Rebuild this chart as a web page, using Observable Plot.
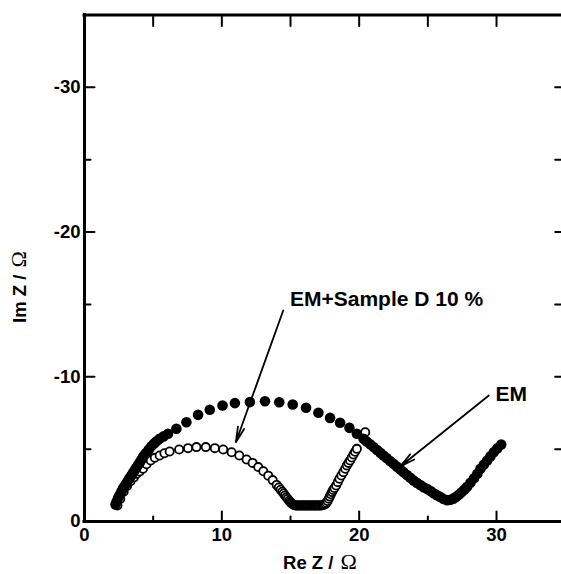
<!DOCTYPE html>
<html><head><meta charset="utf-8">
<script src="https://cdn.jsdelivr.net/npm/d3@7"></script>
<script src="https://cdn.jsdelivr.net/npm/@observablehq/plot@0.6"></script>
<style>body{margin:0;background:#fff;}</style>
</head><body><div id="chart"></div>
<script>
// EM (filled circles)
const emRe = [2.26,2.35,2.45,2.55,2.68,2.80,2.92,3.04,3.16,3.28,3.41,3.53,3.65,3.77,3.90,4.02,4.14,4.26,4.38,4.50,4.68,4.87,5.05,5.25,5.47,5.75,6.08,6.69,7.42,8.27,9.12,10.05,10.95,12.04,13.14,14.18,15.16,16.13,17.03,17.88,18.61,19.29,19.83,20.32,20.55,20.80,21.05,21.30,21.55,21.77,22.00,22.25,22.50,22.75,23.00,23.23,23.48,23.72,23.96,24.20,24.45,24.69,24.95,25.20,25.42,25.65,25.90,26.15,26.40,26.64,26.85,27.05,27.25,27.45,27.65,27.86,28.10,28.35,28.60,28.83,29.08,29.32,29.55,29.80,30.05,30.34];
const emIm = [-1.17,-1.40,-1.62,-1.82,-2.05,-2.28,-2.45,-2.62,-2.82,-3.00,-3.18,-3.36,-3.54,-3.71,-3.90,-4.08,-4.26,-4.45,-4.62,-4.75,-4.98,-5.20,-5.38,-5.55,-5.71,-5.88,-6.06,-6.41,-6.86,-7.37,-7.72,-8.02,-8.18,-8.25,-8.31,-8.24,-8.09,-7.86,-7.51,-7.16,-6.82,-6.47,-6.06,-5.71,-5.52,-5.33,-5.14,-4.94,-4.74,-4.56,-4.38,-4.18,-3.99,-3.79,-3.60,-3.41,-3.21,-3.02,-2.83,-2.67,-2.52,-2.37,-2.24,-2.10,-1.95,-1.82,-1.70,-1.55,-1.47,-1.50,-1.58,-1.70,-1.85,-2.02,-2.20,-2.40,-2.68,-2.98,-3.30,-3.64,-3.94,-4.22,-4.50,-4.79,-5.05,-5.32];
// EM+Sample D 10 % (open circles)
const sampleRe = [2.40,2.60,2.85,3.10,3.35,3.60,3.80,4.02,4.26,4.52,4.82,5.12,5.47,5.82,6.20,6.89,7.54,8.15,8.83,9.49,10.10,10.71,11.27,11.80,12.24,12.65,13.02,13.38,13.70,13.99,14.15,14.28,14.40,14.50,14.60,14.70,14.80,14.90,14.98,15.06,15.14,15.22,15.30,15.38,15.46,15.54,15.62,15.70,15.78,15.86,15.94,16.02,16.10,16.18,16.26,16.34,16.42,16.50,16.58,16.66,16.74,16.82,16.90,16.98,17.06,17.14,17.22,17.30,17.38,17.46,17.54,17.62,17.70,17.78,17.86,17.94,18.02,18.10,18.20,18.32,18.44,18.56,18.70,18.85,18.98,19.10,19.22,19.34,19.46,19.58,19.70,19.83,20.44];
const sampleIm = [-1.10,-1.55,-2.05,-2.45,-2.78,-3.05,-3.30,-3.45,-3.64,-3.95,-4.22,-4.40,-4.56,-4.72,-4.84,-4.98,-5.07,-5.14,-5.14,-5.07,-4.98,-4.79,-4.56,-4.28,-4.05,-3.76,-3.47,-3.17,-2.86,-2.53,-2.35,-2.20,-2.06,-1.93,-1.80,-1.67,-1.55,-1.43,-1.35,-1.27,-1.21,-1.16,-1.13,-1.11,-1.10,-1.10,-1.10,-1.10,-1.10,-1.10,-1.10,-1.10,-1.10,-1.10,-1.10,-1.10,-1.10,-1.10,-1.10,-1.10,-1.10,-1.10,-1.10,-1.10,-1.10,-1.10,-1.11,-1.12,-1.14,-1.17,-1.22,-1.30,-1.42,-1.57,-1.72,-1.88,-2.03,-2.18,-2.32,-2.49,-2.72,-2.95,-3.18,-3.41,-3.64,-3.87,-4.05,-4.22,-4.42,-4.63,-4.82,-5.02,-6.17];

const xMajorTicks = [0, 10, 20, 30];
const xMinorTicks = [5, 15, 25];
const yMajorTicks = [0, -10, -20, -30];
const yMinorTicks = [-5, -15, -25];
const xDomain = [0, 35];
const yDomain = [0, -35];

const annotationText = ["EM+Sample D 10 %", "EM"];
const annotationX = [14.96, 29.93];
const annotationY = [-15.34, -8.78];
const arrowFromX = [14.47, 29.44];
const arrowFromY = [-14.58, -8.71];
const arrowToX = [11.02, 22.99];
const arrowToY = [-5.48, -3.80];

const xTitle = "Re Z / ";
const yTitle = "Im Z / ";
const unitSymbol = "Ω";

const em = emRe.map((x, i) => ({x, y: emIm[i]}));
const sample = sampleRe.map((x, i) => ({x, y: sampleIm[i]}));
const notes = annotationText.map((t, i) => ({t, x: annotationX[i], y: annotationY[i]}));
const arrows = arrowFromX.map((x1, i) => ({x1, y1: arrowFromY[i], x2: arrowToX[i], y2: arrowToY[i]}));

const FONT = "'Liberation Sans', Arial, Helvetica, sans-serif";
const tickShape = {draw(context, l) { context.moveTo(0, 0); context.lineTo(0, -l); }};
function xTicks(values, atY, rotate, length) {
  return Plot.vector(values, {x: d => d, y: () => atY, rotate, length, anchor: "start", shape: tickShape, stroke: "black", strokeWidth: 2});
}
function yTicks(values, atX, rotate, length) {
  return Plot.vector(values, {x: () => atX, y: d => d, rotate, length, anchor: "start", shape: tickShape, stroke: "black", strokeWidth: 2});
}

const plot = Plot.plot({
  width: 561,
  height: 574,
  marginLeft: 84,
  marginRight: 0,
  marginTop: 14,
  marginBottom: 53,
  style: {fontFamily: FONT, color: "black", background: "white"},
  x: {domain: xDomain, range: [84, 564.7]},
  y: {domain: yDomain, range: [521, 14.5]},
  marks: [
    Plot.dot(sample, {x: "x", y: "y", r: 4.1, fill: "white", stroke: "black", strokeWidth: 1.8}),
    Plot.dot(em, {x: "x", y: "y", r: 5.3, fill: "black", stroke: "none"}),
    Plot.arrow(arrows, {x1: "x1", y1: "y1", x2: "x2", y2: "y2", stroke: "black", strokeWidth: 1.8, headLength: 13, headAngle: 24}),
    Plot.text(notes, {x: "x", y: "y", text: "t", textAnchor: "start", lineAnchor: "middle", fontSize: 21, fontWeight: "bold", fill: "black"}),
    xTicks(xMajorTicks, yDomain[0], 0, 10),
    xTicks(xMinorTicks, yDomain[0], 0, 5),
    xTicks(xMajorTicks.concat(xMinorTicks), yDomain[1], 180, 11),
    yTicks(yMajorTicks, xDomain[0], 90, 10),
    yTicks(yMinorTicks, xDomain[0], 90, 6),
    yTicks(yMajorTicks.concat(yMinorTicks), xDomain[1], 270, 10),
    Plot.ruleX(xDomain, {x: d => d, y1: yDomain[0], y2: yDomain[1], stroke: "black", strokeWidth: 3, strokeLinecap: "square"}),
    Plot.ruleY(yDomain, {y: d => d, x1: xDomain[0], x2: xDomain[1], stroke: "black", strokeWidth: 3, strokeLinecap: "square"}),
    Plot.axisX(xMajorTicks, {anchor: "bottom", tickSize: 0, tickPadding: 6, tickFormat: d => String(d), fontSize: 18.5, fontWeight: "bold", label: null}),
    Plot.axisY(yMajorTicks, {anchor: "left", tickSize: 0, tickPadding: 4, tickFormat: d => String(d), fontSize: 18.5, fontWeight: "bold", label: null})
  ]
});

const svg = d3.select(plot);
const xt = svg.append("text")
  .attr("x", 320).attr("y", 569)
  .attr("text-anchor", "middle")
  .attr("font-family", FONT).attr("font-size", 18.5).attr("font-weight", "bold").attr("fill", "black");
xt.append("tspan").text(xTitle);
xt.append("tspan").attr("dx", 2).attr("font-family", "'Liberation Serif', 'Times New Roman', serif").attr("font-weight", "normal").attr("font-size", 22).text(unitSymbol);

const yt = svg.append("text")
  .attr("transform", "translate(26,287) rotate(-90)")
  .attr("text-anchor", "middle")
  .attr("font-family", FONT).attr("font-size", 18.5).attr("font-weight", "bold").attr("fill", "black");
yt.append("tspan").text(yTitle);
yt.append("tspan").attr("dx", 2).attr("font-family", "'Liberation Serif', 'Times New Roman', serif").attr("font-weight", "normal").attr("font-size", 22).text(unitSymbol);

document.getElementById("chart").appendChild(plot);
</script>
</body></html>
